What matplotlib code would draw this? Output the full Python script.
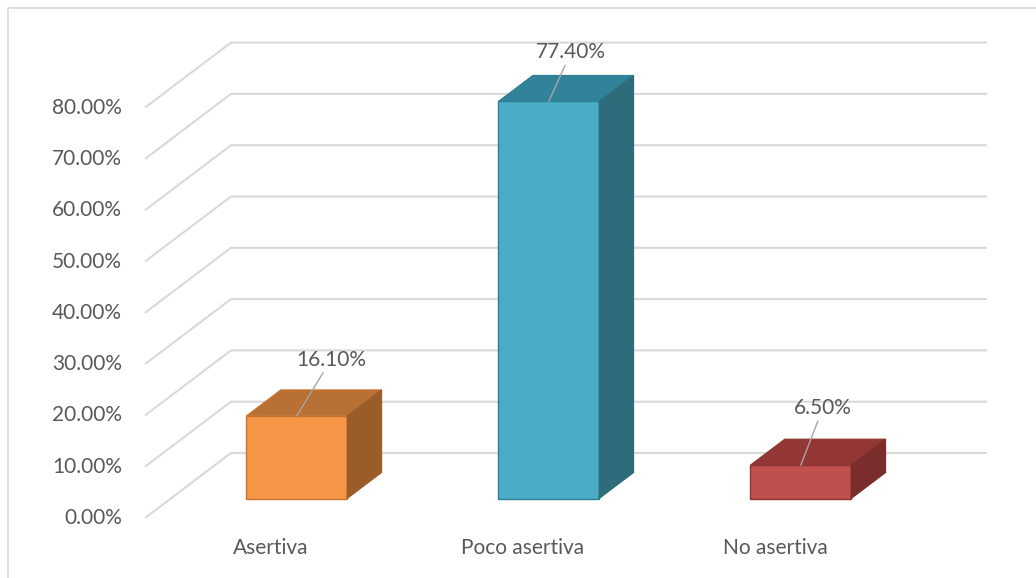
import matplotlib
matplotlib.use('Agg')
import matplotlib.pyplot as plt
from matplotlib.lines import Line2D

categories = ['Asertiva', 'Poco asertiva', 'No asertiva']
values = [16.10, 77.40, 6.50]
value_labels = ['16.10%', '77.40%', '6.50%']
y_ticks = [0, 10, 20, 30, 40, 50, 60, 70, 80]
y_tick_labels = ['0.00%', '10.00%', '20.00%', '30.00%', '40.00%',
                 '50.00%', '60.00%', '70.00%', '80.00%']

front_colors = ['#F79646', '#4BACC6', '#C0504D']
top_colors = ['#B97034', '#31839A', '#933735']
side_colors = ['#9A5D2A', '#2E6C7B', '#7A2D2C']
edge_colors = ['#C87432', '#2F7F95', '#8E3431']
label_offsets = [(34, 56), (22, 49), (22, 57)]  # pixels, leader lines

# layout, in pixels of the 1036x578 picture
W, H = 1036, 578
X0_PX, Y0_PX = 145, 518      # front left corner of the floor
SLOT_PX = 252                 # one category at the front
PCT_PX = 5.13                 # one percent
DX = 86 / SLOT_PX             # wall depth, category units
DY = 65 / PCT_PX              # wall depth, percent units
BAR_W = 0.4
D0, D1 = 0.3, 0.7             # bar depth span (fraction of wall depth)

plt.rcParams['font.family'] = ['Lato', 'DejaVu Sans']
txt = {'fontsize': 15, 'color': '#595959'}

fig = plt.figure(figsize=(W / 100, H / 100), dpi=100)
ax = fig.add_axes([0, 0, 1, 1])

# walls gridlines
for t in y_ticks:
    ax.plot([-0.5, -0.5 + DX, len(categories) - 0.5 + DX], [t, t + DY, t + DY],
            color='#D9D9D9', lw=1.5, zorder=1, solid_capstyle='butt')

for t, lbl in zip(y_ticks, y_tick_labels):
    ax.annotate(lbl, xy=(-0.5, t), xytext=(-23, 0), textcoords='offset pixels',
                ha='right', va='center', **txt)

# bars
for i, v in enumerate(values):
    xc = i + D0 * DX
    y0 = D0 * DY
    x0 = xc - BAR_W / 2
    dx = (D1 - D0) * DX
    dy = (D1 - D0) * DY
    ax.bar(xc, v, width=BAR_W, bottom=y0, color=front_colors[i],
           edgecolor=edge_colors[i], lw=1, zorder=3)
    ax.fill([x0, x0 + BAR_W, x0 + BAR_W + dx, x0 + dx],
            [y0 + v, y0 + v, y0 + v + dy, y0 + v + dy],
            color=top_colors[i], ec=edge_colors[i], lw=0.8, zorder=3)
    ax.fill([x0 + BAR_W, x0 + BAR_W + dx, x0 + BAR_W + dx, x0 + BAR_W],
            [y0, y0 + dy, y0 + v + dy, y0 + v],
            color=side_colors[i], ec=side_colors[i], lw=0.8, zorder=3)
    ax.annotate(value_labels[i], xy=(xc, y0 + v), xytext=label_offsets[i],
                textcoords='offset pixels', ha='center', va='center', zorder=5,
                arrowprops=dict(arrowstyle='-', color='#A6A6A6', lw=1,
                                shrinkA=0, shrinkB=0), **txt)

for i, c in enumerate(categories):
    ax.text(i, -(548 - Y0_PX) / PCT_PX, c, ha='center', va='center', **txt)

ax.set_xlim(-0.5 - X0_PX / SLOT_PX, -0.5 + (W - X0_PX) / SLOT_PX)
ax.set_ylim(-(H - Y0_PX) / PCT_PX, Y0_PX / PCT_PX)
ax.axis('off')

# chart area border (only top and left inside the picture)
fig.add_artist(Line2D([7.5 / W, 7.5 / W, 1.0], [0.0, 1 - 7.5 / H, 1 - 7.5 / H],
                      color='#D9D9D9', lw=1.2))

fig.savefig('out.png', dpi=100)
